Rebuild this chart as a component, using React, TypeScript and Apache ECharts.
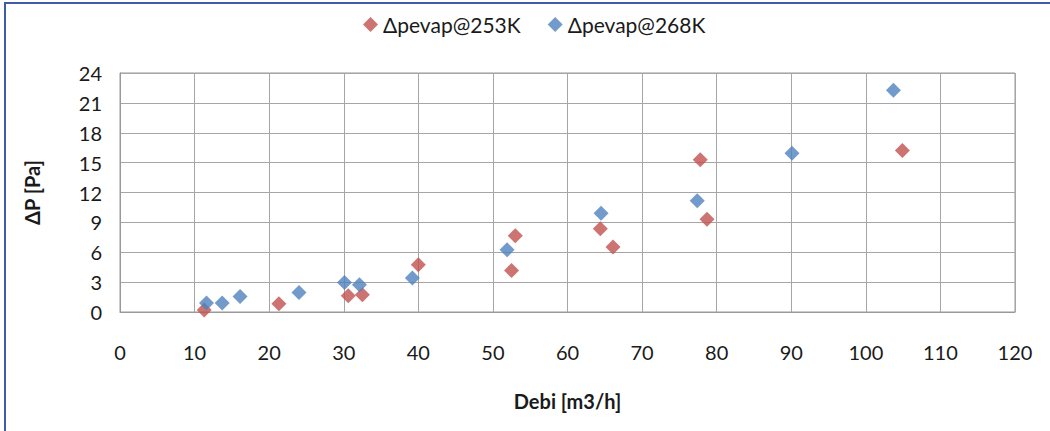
import React, { useEffect, useRef } from "react";
import * as echarts from "echarts";

const seriesNames = ["Δpevap@253K", "Δpevap@268K"];
const seriesColors = ["#C0504D", "#4F81BD"];

const data253K: [number, number][] = [
  [11.3, 0.2], [21.3, 0.83], [30.6, 1.63], [32.5, 1.73], [40.0, 4.74], [52.5, 4.17],
  [53.0, 7.65], [64.4, 8.35], [66.1, 6.52], [77.8, 15.29], [78.7, 9.32], [104.9, 16.23],
];
const data268K: [number, number][] = [
  [11.6, 0.9], [13.7, 0.9], [16.1, 1.56], [24.0, 1.96], [30.1, 2.97], [32.1, 2.74],
  [39.2, 3.41], [51.9, 6.24], [64.5, 9.92], [77.4, 11.18], [90.1, 15.93], [103.7, 22.27],
];

const xAxisName = "Debi [m3/h]";
const yAxisName = "ΔP [Pa]";
const xRange = { min: 0, max: 120, interval: 10 };
const yRange = { min: 0, max: 24, interval: 3 };

const FONT = "Lato, 'DejaVu Sans', sans-serif";

export default function App() {
  const ref = useRef<HTMLDivElement>(null);
  useEffect(() => {
    if (!ref.current) return;
    const chart = echarts.init(ref.current, undefined, { renderer: "svg" });
    chart.setOption({
      animation: false,
      backgroundColor: "#ffffff",
      textStyle: { fontFamily: FONT },
      graphic: [
        {
          type: "rect",
          shape: { x: 5, y: 3, width: 1100, height: 500 },
          style: { fill: "none", stroke: "#3F5CA8", lineWidth: 2 },
          silent: true,
        },
      ],
      legend: {
        left: 358,
        top: 9,
        icon: "diamond",
        itemWidth: 15,
        itemHeight: 15,
        itemGap: 27,
        textStyle: { fontFamily: FONT, fontSize: 21, color: "#1a1a1a" },
        data: seriesNames,
      },
      grid: {
        left: 120,
        top: 73,
        width: 895,
        height: 239,
        show: true,
        borderColor: "#999999",
        borderWidth: 1,
        containLabel: false,
      },
      xAxis: {
        type: "value",
        min: xRange.min,
        max: xRange.max,
        interval: xRange.interval,
        name: xAxisName,
        nameLocation: "middle",
        nameGap: 79,
        nameTextStyle: { fontFamily: FONT, fontSize: 20, fontWeight: "bold", color: "#1a1a1a" },
        axisLine: { show: true, lineStyle: { color: "#999999" } },
        axisTick: { show: false },
        axisLabel: { margin: 30, fontFamily: FONT, fontSize: 20, color: "#1a1a1a" },
        splitLine: { show: true, lineStyle: { color: "#a6a6a6", width: 1 } },
      },
      yAxis: {
        type: "value",
        min: yRange.min,
        max: yRange.max,
        interval: yRange.interval,
        name: yAxisName,
        nameLocation: "middle",
        nameGap: 78,
        nameRotate: 90,
        nameTextStyle: { fontFamily: FONT, fontSize: 20, fontWeight: "bold", color: "#1a1a1a" },
        axisLine: { show: true, lineStyle: { color: "#999999" } },
        axisTick: { show: false },
        axisLabel: { margin: 18, fontFamily: FONT, fontSize: 20, color: "#1a1a1a" },
        splitLine: { show: true, lineStyle: { color: "#a6a6a6", width: 1 } },
      },
      series: [
        {
          name: seriesNames[0],
          type: "scatter",
          symbol: "diamond",
          symbolSize: 15,
          itemStyle: { color: seriesColors[0] },
          data: data253K,
        },
        {
          name: seriesNames[1],
          type: "scatter",
          symbol: "diamond",
          symbolSize: 15,
          itemStyle: { color: seriesColors[1] },
          data: data268K,
        },
      ],
    });
    return () => chart.dispose();
  }, []);
  return (
    <div
      ref={ref}
      style={{ position: "fixed", left: 0, top: 0, width: 1050, height: 431 }}
    />
  );
}
